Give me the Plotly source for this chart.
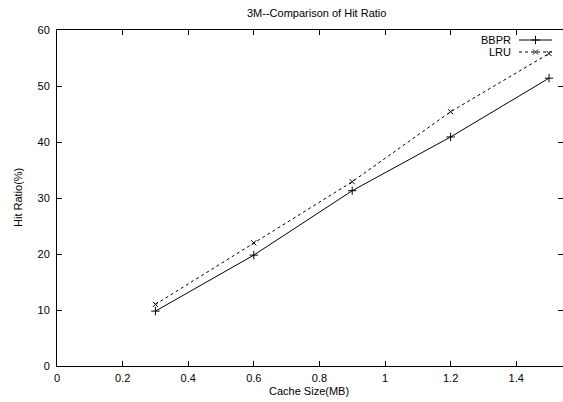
import plotly.graph_objects as go

# ---- data ----
cache_size = [0.3, 0.6, 0.9, 1.2, 1.5]
bbpr = [9.8, 19.8, 31.3, 40.9, 51.4]
lru = [11.0, 22.0, 32.9, 45.4, 55.8]
x_ticks = [0, 0.2, 0.4, 0.6, 0.8, 1, 1.2, 1.4]
x_tick_labels = ["0", "0.2", "0.4", "0.6", "0.8", "1", "1.2", "1.4"]
y_ticks = [0, 10, 20, 30, 40, 50, 60]
series_names = ["BBPR", "LRU"]

# ---- layout geometry (pixels) ----
W, H = 563, 402
ML, MR, MT, MB = 57, 0, 30, 36
PW, PH = W - ML - MR, H - MT - MB

def px(x):
    return (x - ML) / PW

def py(y):
    return (H - MB - y) / PH

FONT = "Liberation Sans, Arial, Helvetica, sans-serif"

fig = go.Figure()
fig.add_trace(go.Scatter(
    x=cache_size, y=bbpr, mode="lines+markers", name=series_names[0],
    line=dict(color="black", width=1),
    marker=dict(symbol="cross-thin", size=6, line=dict(color="black", width=1)),
    showlegend=False))
fig.add_trace(go.Scatter(
    x=cache_size, y=lru, mode="lines+markers", name=series_names[1],
    line=dict(color="black", width=1, dash="3px,3px"),
    marker=dict(symbol="x-thin", size=5, line=dict(color="black", width=1)),
    showlegend=False))

# legend samples on an overlay axis (paper-like 0..1)
leg_y = [40, 52]
for i, (name, dash, sym, sz) in enumerate([
        (series_names[0], "solid", "cross-thin", 6),
        (series_names[1], "3px,3px", "x-thin", 5)]):
    fig.add_trace(go.Scatter(
        x=[px(519), px(552)], y=[py(leg_y[i])] * 2, mode="lines",
        line=dict(color="black", width=1, dash=dash),
        xaxis="x2", yaxis="y2", showlegend=False, hoverinfo="skip"))
    fig.add_trace(go.Scatter(
        x=[px(535.5)], y=[py(leg_y[i])], mode="markers",
        marker=dict(symbol=sym, size=sz, line=dict(color="black", width=1)),
        xaxis="x2", yaxis="y2", showlegend=False, hoverinfo="skip"))
    fig.add_annotation(
        text=name, xref="paper", yref="paper", x=px(513), y=py(leg_y[i]),
        xanchor="right", yanchor="middle", showarrow=False,
        font=dict(family=FONT, size=11, color="black"))

axis_common = dict(
    showgrid=False, zeroline=False, showline=True, linecolor="black",
    linewidth=1, mirror="ticks", ticks="inside", ticklen=5, tickcolor="black",
    tickwidth=1, tickfont=dict(family=FONT, size=11, color="black"))

fig.update_layout(
    width=W, height=H,
    margin=dict(l=ML, r=MR, t=MT, b=MB),
    paper_bgcolor="white", plot_bgcolor="white",
    xaxis=dict(range=[0, (W - ML) / 328.0], tickvals=x_ticks,
               ticktext=x_tick_labels, ticklabelstandoff=2, **axis_common),
    yaxis=dict(range=[0, 60], tickvals=y_ticks, ticklabelstandoff=4,
               **axis_common),
    xaxis2=dict(range=[0, 1], overlaying="x", visible=False, fixedrange=True),
    yaxis2=dict(range=[0, 1], overlaying="y", visible=False, fixedrange=True),
    showlegend=False,
)

fig.add_annotation(text="3M--Comparison of Hit Ratio", xref="paper", yref="paper",
                   x=px(316), y=py(13), xanchor="center", yanchor="middle",
                   showarrow=False, font=dict(family=FONT, size=11, color="black"))
fig.add_annotation(text="Cache Size(MB)", xref="paper", yref="paper",
                   x=px(309), y=py(391), xanchor="center", yanchor="middle",
                   showarrow=False, font=dict(family=FONT, size=11, color="black"))
fig.add_annotation(text="Hit Ratio(%)", xref="paper", yref="paper",
                   x=px(18), y=py(198), xanchor="center", yanchor="middle",
                   textangle=-90, showarrow=False,
                   font=dict(family=FONT, size=11, color="black"))

fig.write_html("out.html", config={"displayModeBar": False},
               post_script="document.body.style.margin='0';"
                           "document.body.style.overflow='hidden';")
